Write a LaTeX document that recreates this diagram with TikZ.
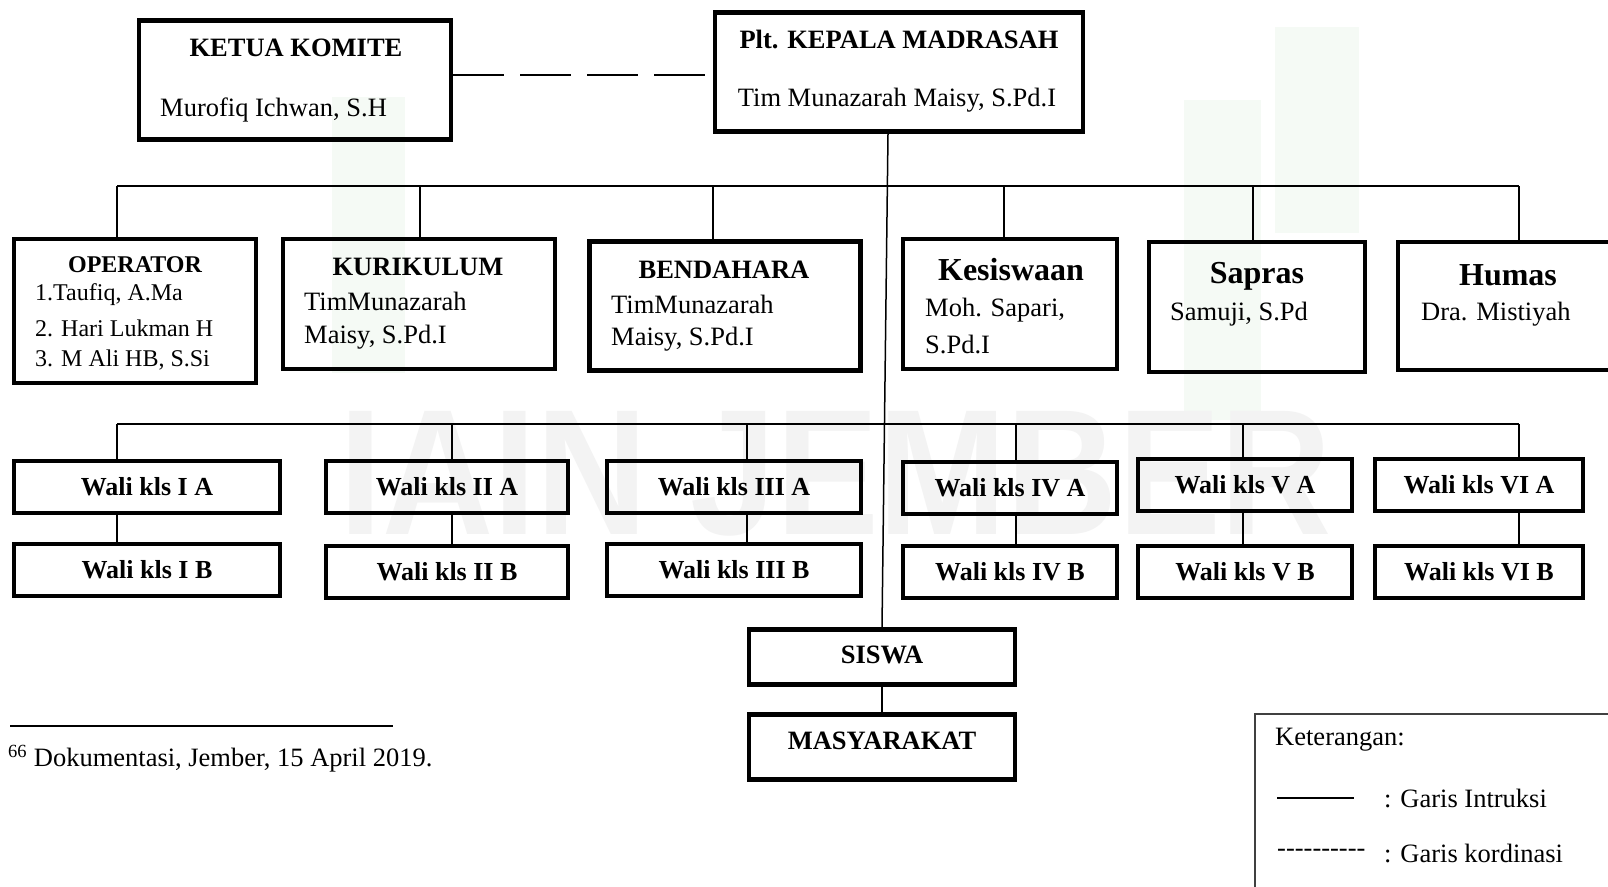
\documentclass[tikz,border=0pt]{standalone}
\usepackage{fontspec}
\setmainfont{Liberation Serif}
\setsansfont{Liberation Sans}
\usepackage{tikz}
\usetikzlibrary{calc,positioning}

\definecolor{watermark-gray}{RGB}{243,243,243}
\definecolor{watermark-green}{RGB}{245,250,245}

\begin{document}
\begin{tikzpicture}[x=1pt, y=-1pt,
    unit-box/.style={draw, rectangle, line width=4.5pt, inner sep=0pt},
    instr-line/.style={line width=1.5pt},
    coord-line/.style={line width=1.8pt, dash pattern=on 51pt off 16pt},
    head-text/.style={inner sep=0pt, font=\bfseries\fontsize{26.5}{30}\selectfont},
    big-head-text/.style={inner sep=0pt, font=\bfseries\fontsize{32}{36}\selectfont},
    name-text/.style={inner sep=0pt, anchor=west, font=\fontsize{26.5}{30}\selectfont},
    small-text/.style={inner sep=0pt, anchor=west, font=\fontsize{24}{28}\selectfont},
    wali-box/.style={unit-box, minimum height=52pt, font=\bfseries\fontsize{26}{30}\selectfont}]

  % Fix the page size.
  \path [fill=white] (0,0) rectangle (1608,886);
  \useasboundingbox (0,0) rectangle (1608,886);

  % The faint watermark behind the chart.
  \fill [watermark-green] (332,97) rectangle (405,373);
  \fill [watermark-green] (1184,100) rectangle (1261,420);
  \fill [watermark-green] (1275,27) rectangle (1359,233);
  \node [text=watermark-gray, inner sep=0pt,
         font=\sffamily\bfseries\fontsize{179}{179}\selectfont] (watermark) at (836,474)
    {\scalebox{0.86}[1]{IAIN JEMBER}};

  % Place the head of the madrasah and the committee.
  \node [unit-box, minimum width=312pt, minimum height=119pt] (ketua-komite) at (295,80) {};
  \node [head-text] (ketua-title) at (296,48) {KETUA KOMITE};
  \node [name-text] (ketua-name) at (160,110) {Murofiq Ichwan, S.H};

  \node [unit-box, minimum width=368pt, minimum height=119pt] (kepala-madrasah) at (899,72) {};
  \node [head-text] (kepala-title) at (899,39) {Plt. KEPALA MADRASAH};
  \node [name-text, anchor=center] (kepala-name) at (897,100) {Tim Munazarah Maisy, S.Pd.I};

  \draw [coord-line] ($(ketua-komite.east)+(0,-5)$) -- ($(kepala-madrasah.west)+(0,3)$);

  % Place the staff row.
  \node [unit-box, minimum width=242pt, minimum height=144pt] (operator-box) at (135,311) {};
  \node [inner sep=0pt, font=\bfseries\fontsize{24}{28}\selectfont] (operator-title) at (135,265) {OPERATOR};
  \node [small-text] (operator-1) at (35,295) {1.Taufiq, A.Ma};
  \node [small-text] (operator-2) at (35,328) {2. Hari Lukman H};
  \node [small-text] (operator-3) at (35,360) {3. M Ali HB, S.Si};

  \node [unit-box, minimum width=272pt, minimum height=130pt] (kurikulum-box) at (419,304) {};
  \node [head-text] (kurikulum-title) at (418,267) {KURIKULUM};
  \node [name-text] (kurikulum-name-1) at (304,301) {TimMunazarah};
  \node [name-text] (kurikulum-name-2) at (304,337) {Maisy, S.Pd.I};

  \node [unit-box, minimum width=271pt, minimum height=129pt] (bendahara-box) at (725,306) {};
  \node [head-text] (bendahara-title) at (724,270) {BENDAHARA};
  \node [name-text] (bendahara-name-1) at (611,304) {TimMunazarah};
  \node [name-text] (bendahara-name-2) at (611,339) {Maisy, S.Pd.I};

  \node [unit-box, minimum width=214pt, minimum height=130pt] (kesiswaan-box) at (1010,304) {};
  \node [big-head-text] (kesiswaan-title) at (1011,270) {Kesiswaan};
  \node [name-text] (kesiswaan-name-1) at (925,310) {Moh. Sapari,};
  \node [name-text] (kesiswaan-name-2) at (925,344) {S.Pd.I};

  \node [unit-box, minimum width=216pt, minimum height=130pt] (sapras-box) at (1257,307) {};
  \node [big-head-text] (sapras-title) at (1257,276) {Sapras};
  \node [name-text] (sapras-name) at (1170,314) {Samuji, S.Pd};

  \node [unit-box, minimum width=230pt, minimum height=128pt] (humas-box) at (1513,306) {};
  \node [big-head-text] (humas-title) at (1508,275) {Humas};
  \node [name-text] (humas-name) at (1421,314) {Dra. Mistiyah};

  % The first bus, from the head down to the staff.
  \coordinate (bus-a-1) at (117,186);
  \coordinate (bus-a-2) at (420,186);
  \coordinate (bus-a-3) at (713,186);
  \coordinate (bus-a-4) at (1004,186);
  \coordinate (bus-a-5) at (1253,186);
  \coordinate (bus-a-6) at (1519,186);

  \draw [instr-line] (bus-a-1) -- (bus-a-6);
  \draw [instr-line] (bus-a-1) -- (bus-a-1 |- operator-box.north);
  \draw [instr-line] (bus-a-2) -- (bus-a-2 |- kurikulum-box.north);
  \draw [instr-line] (bus-a-3) -- (bus-a-3 |- bendahara-box.north);
  \draw [instr-line] (bus-a-4) -- (bus-a-4 |- kesiswaan-box.north);
  \draw [instr-line] (bus-a-5) -- (bus-a-5 |- sapras-box.north);
  \draw [instr-line] (bus-a-6) -- (bus-a-6 |- humas-box.north);

  % Place the class teachers.
  \node [wali-box, minimum width=266pt] (wali-1a) at (147,487) {Wali kls I A};
  \node [wali-box, minimum width=242pt] (wali-2a) at (447,487) {Wali kls II A};
  \node [wali-box, minimum width=254pt] (wali-3a) at (734,487) {Wali kls III A};
  \node [wali-box, minimum width=214pt] (wali-4a) at (1010,488) {Wali kls IV A};
  \node [wali-box, minimum width=214pt] (wali-5a) at (1245,485) {Wali kls V A};
  \node [wali-box, minimum width=208pt] (wali-6a) at (1479,485) {Wali kls VI A};

  \node [wali-box, minimum width=266pt] (wali-1b) at (147,570) {Wali kls I B};
  \node [wali-box, minimum width=242pt] (wali-2b) at (447,572) {Wali kls II B};
  \node [wali-box, minimum width=254pt] (wali-3b) at (734,570) {Wali kls III B};
  \node [wali-box, minimum width=214pt] (wali-4b) at (1010,572) {Wali kls IV B};
  \node [wali-box, minimum width=214pt] (wali-5b) at (1245,572) {Wali kls V B};
  \node [wali-box, minimum width=208pt] (wali-6b) at (1479,572) {Wali kls VI B};

  % The second bus, down to the class teachers.
  \coordinate (bus-b-1) at (117,424);
  \coordinate (bus-b-2) at (452,424);
  \coordinate (bus-b-3) at (747,424);
  \coordinate (bus-b-4) at (1016,424);
  \coordinate (bus-b-5) at (1243,424);
  \coordinate (bus-b-6) at (1519,424);

  \draw [instr-line, line width=2.5pt] (bus-b-1) -- (bus-b-6);
  \draw [instr-line] (bus-b-1) -- (bus-b-1 |- wali-1a.north);
  \draw [instr-line] (bus-b-2) -- (bus-b-2 |- wali-2a.north);
  \draw [instr-line] (bus-b-3) -- (bus-b-3 |- wali-3a.north);
  \draw [instr-line] (bus-b-4) -- (bus-b-4 |- wali-4a.north);
  \draw [instr-line] (bus-b-5) -- (bus-b-5 |- wali-5a.north);
  \draw [instr-line] (bus-b-6) -- (bus-b-6 |- wali-6a.north);

  \draw [instr-line] (wali-1a.south -| bus-b-1) -- (wali-1b.north -| bus-b-1);
  \draw [instr-line] (wali-2a.south -| bus-b-2) -- (wali-2b.north -| bus-b-2);
  \draw [instr-line] (wali-3a.south -| bus-b-3) -- (wali-3b.north -| bus-b-3);
  \draw [instr-line] (wali-4a.south -| bus-b-4) -- (wali-4b.north -| bus-b-4);
  \draw [instr-line] (wali-5a.south -| bus-b-5) -- (wali-5b.north -| bus-b-5);
  \draw [instr-line] (wali-6a.south -| bus-b-6) -- (wali-6b.north -| bus-b-6);

  % Place the students and the community.
  \node [unit-box, minimum width=266pt, minimum height=55pt] (siswa-box) at (882,657) {};
  \node [head-text] (siswa-title) at (882,655) {SISWA};
  \node [unit-box, minimum width=266pt, minimum height=65pt] (masyarakat-box) at (882,747) {};
  \node [head-text] (masyarakat-title) at (882,741) {MASYARAKAT};

  \draw [instr-line] ($(kepala-madrasah.south)+(-11,0)$) -- (siswa-box.north);
  \draw [instr-line] (siswa-box) -- (masyarakat-box);

  % The footnote.
  \coordinate (rule-start) at (10,726);
  \coordinate (rule-end) at (393,726);
  \draw [line width=2.2pt] (rule-start) -- (rule-end);
  \node [name-text] (footnote) at (8,759) {\textsuperscript{66} Dokumentasi, Jember, 15 April 2019.};

  % The legend.
  \draw [line width=1.5pt, black!75] (1255,900) -- (1255,714) -- (1620,714);
  \node [name-text] (legend-title) at (1275,740) {Keterangan:};
  \coordinate (legend-line-start) at (1277,798);
  \coordinate (legend-line-end) at (1354,798);
  \draw [line width=1.8pt] (legend-line-start) -- (legend-line-end);
  \node [name-text] (legend-instr) at (1384,798) {: Garis Intruksi};
  \node [name-text] (legend-dashes) at (1277,853) {-{}-{}-{}-{}-{}-{}-{}-{}-{}-};
  \node [name-text] (legend-coord) at (1384,853) {: Garis kordinasi};

\end{tikzpicture}
\end{document}
